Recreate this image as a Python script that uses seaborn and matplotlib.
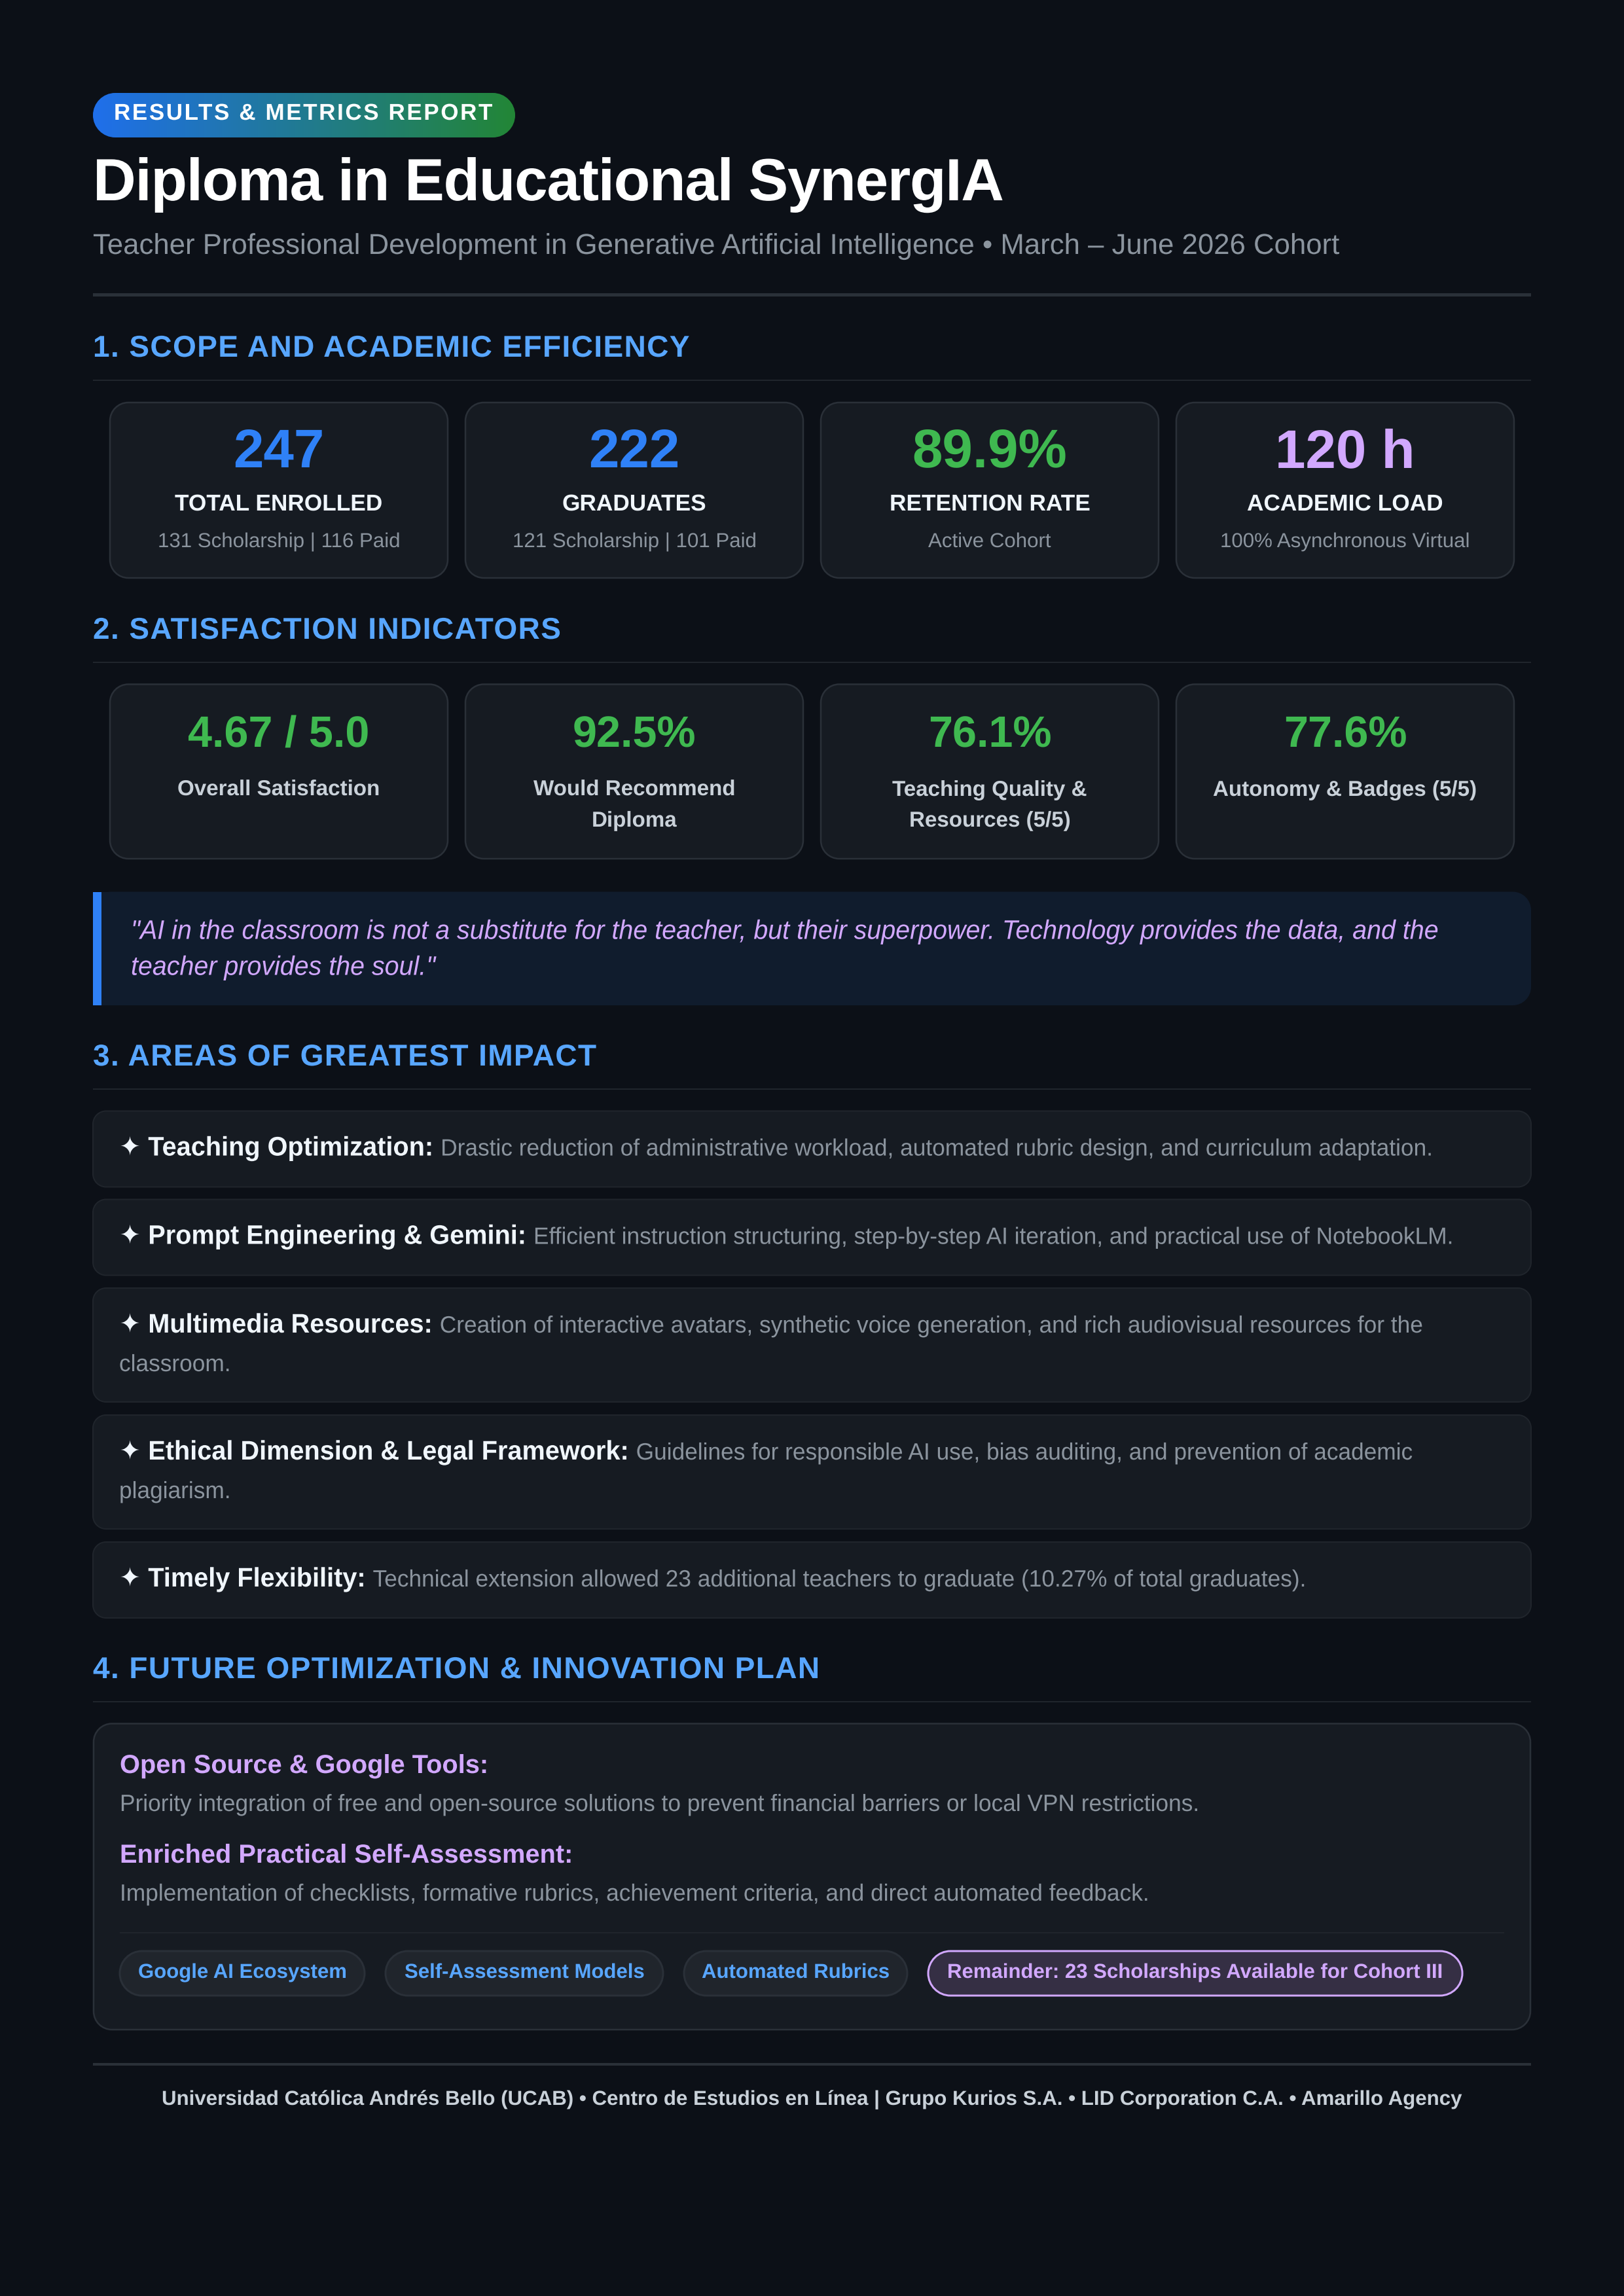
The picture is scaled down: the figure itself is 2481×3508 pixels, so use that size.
from bisect import bisect_right

import numpy as np
import matplotlib
matplotlib.use("Agg")
import matplotlib.pyplot as plt
import seaborn as sns
from matplotlib.patches import PathPatch, Rectangle
from matplotlib.path import Path
from matplotlib.patheffects import AbstractPathEffect
from matplotlib.transforms import IdentityTransform

# --- content ---
badge_text = "RESULTS & METRICS REPORT"
title_text = "Diploma in Educational SynergIA"
subtitle_text = "Teacher Professional Development in Generative Artificial Intelligence • March – June 2026 Cohort"

section_titles = ["1. SCOPE AND ACADEMIC EFFICIENCY", "2. SATISFACTION INDICATORS",
                  "3. AREAS OF GREATEST IMPACT", "4. FUTURE OPTIMIZATION & INNOVATION PLAN"]

scope_values = ["247", "222", "89.9%", "120 h"]
scope_labels = ["TOTAL ENROLLED", "GRADUATES", "RETENTION RATE", "ACADEMIC LOAD"]
scope_notes = ["131 Scholarship | 116 Paid", "121 Scholarship | 101 Paid", "Active Cohort", "100% Asynchronous Virtual"]

satisfaction_values = ["4.67 / 5.0", "92.5%", "76.1%", "77.6%"]
satisfaction_labels = [["Overall Satisfaction"], ["Would Recommend", "Diploma"],
                       ["Teaching Quality &", "Resources (5/5)"], ["Autonomy & Badges (5/5)"]]

quote_lines = ['"AI in the classroom is not a substitute for the teacher, but their superpower. Technology provides the data, and the',
               'teacher provides the soul."']

impact_heads = ["✦ Teaching Optimization:", "✦ Prompt Engineering & Gemini:", "✦ Multimedia Resources:",
                "✦ Ethical Dimension & Legal Framework:", "✦ Timely Flexibility:"]
impact_lines = [["Drastic reduction of administrative workload, automated rubric design, and curriculum adaptation."],
                ["Efficient instruction structuring, step-by-step AI iteration, and practical use of NotebookLM."],
                ["Creation of interactive avatars, synthetic voice generation, and rich audiovisual resources for the", "classroom."],
                ["Guidelines for responsible AI use, bias auditing, and prevention of academic", "plagiarism."],
                ["Technical extension allowed 23 additional teachers to graduate (10.27% of total graduates)."]]

plan_heads = ["Open Source & Google Tools:", "Enriched Practical Self-Assessment:"]
plan_notes = ["Priority integration of free and open-source solutions to prevent financial barriers or local VPN restrictions.",
              "Implementation of checklists, formative rubrics, achievement criteria, and direct automated feedback."]
pill_labels = ["Google AI Ecosystem", "Self-Assessment Models", "Automated Rubrics",
               "Remainder: 23 Scholarships Available for Cohort III"]
footer_text = "Universidad Católica Andrés Bello (UCAB) • Centro de Estudios en Línea | Grupo Kurios S.A. • LID Corporation C.A. • Amarillo Agency"

# colours
BG = "#0c1017"
CARD = "#161b22"
LINE = "#2a3038"
SOFT_LINE = "#20252c"
QUOTE = "#101c2d"
BLUE = "#2f81f7"
SKY = "#58a6ff"
GREEN = "#3fb950"
PURPLE = "#d2a8ff"
WHITE = "#f0f6fc"
LIGHT = "#c9d1d9"
GREY = "#8b949e"
scope_colors = [BLUE, BLUE, GREEN, PURPLE]

sns.set_theme(style="dark", rc={"figure.facecolor": BG, "axes.facecolor": BG, "text.hinting": "none"})
plt.rcParams["font.family"] = ["Liberation Sans", "DejaVu Sans"]

DPI = 100
fig = plt.figure(figsize=(24.81, 35.08), dpi=DPI)
ax = fig.add_axes([0, 0, 1, 1])
ax.set_xlim(0, 2481)
ax.set_ylim(3508, 0)
ax.set_axis_off()
sns.despine(ax=ax, left=True, bottom=True)
renderer = fig.canvas.get_renderer()


class Tracking(AbstractPathEffect):
    # css letter-spacing: moves each glyph's contours right by its index * spacing
    def __init__(self, x0, edges, spacing):
        super().__init__()
        self.x0 = x0
        self.edges = edges
        self.spacing = spacing

    def draw_path(self, renderer, gc, tpath, affine, rgbFace=None):
        verts = affine.transform(tpath.vertices)
        codes = tpath.codes
        starts = list(np.flatnonzero(codes == Path.MOVETO)) + [len(codes)]
        for a, b in zip(starts[:-1], starts[1:]):
            real = codes[a:b] != Path.CLOSEPOLY
            mid = (verts[a:b][real, 0].min() + verts[a:b][real, 0].max()) / 2
            verts[a:b, 0] += self.spacing * bisect_right(self.edges, mid - self.x0)
        renderer.draw_path(gc, Path(verts, codes), IdentityTransform(), rgbFace)


class StretchX(AbstractPathEffect):
    # reference font runs a little narrower than Liberation
    def __init__(self, x0, k):
        super().__init__()
        self.x0 = x0
        self.k = k

    def draw_path(self, renderer, gc, tpath, affine, rgbFace=None):
        verts = affine.transform(tpath.vertices)
        verts[:, 0] = self.x0 + (verts[:, 0] - self.x0) * self.k
        renderer.draw_path(gc, Path(verts, tpath.codes), IdentityTransform(), rgbFace)


def put(x, y, s, px, color, weight="normal", ha="left", style="normal", spacing=0, k=1.0):
    t = ax.text(x, y, s, fontsize=px * 72 / DPI, color=color, fontweight=weight, ha=ha,
                va="baseline", fontstyle=style, zorder=5)
    w = t.get_window_extent(renderer).width
    if spacing:
        fp = t.get_fontproperties()
        edges = [renderer.get_text_width_height_descent(s[:i + 1], fp, False)[0] for i in range(len(s))]
        t.set_path_effects([Tracking(x, edges, spacing)])
        w += spacing * (len(s) - 1)
    elif k != 1.0:
        t.set_path_effects([StretchX(x, k)])
        w *= k
    return x + w


def rounded(x0, y0, x1, y1, r):
    c = r * 0.4477  # distance of the bezier handle from the corner
    verts = [(x0 + r, y0), (x1 - r, y0), (x1 - c, y0), (x1, y0 + c), (x1, y0 + r),
             (x1, y1 - r), (x1, y1 - c), (x1 - c, y1), (x1 - r, y1),
             (x0 + r, y1), (x0 + c, y1), (x0, y1 - c), (x0, y1 - r),
             (x0, y0 + r), (x0, y0 + c), (x0 + c, y0), (x0 + r, y0), (x0 + r, y0)]
    codes = [Path.MOVETO, Path.LINETO, Path.CURVE4, Path.CURVE4, Path.CURVE4,
             Path.LINETO, Path.CURVE4, Path.CURVE4, Path.CURVE4,
             Path.LINETO, Path.CURVE4, Path.CURVE4, Path.CURVE4,
             Path.LINETO, Path.CURVE4, Path.CURVE4, Path.CURVE4, Path.CLOSEPOLY]
    return Path(verts, codes)


def box(x0, y0, x1, y1, radius, face, edge=None, lw=2.5, z=2):
    p = PathPatch(rounded(x0, y0, x1, y1, radius), facecolor=face, edgecolor=edge if edge else "none",
                  linewidth=lw * 72 / DPI, zorder=z)
    ax.add_patch(p)
    return p


def hline(y, x0, x1, color, thick):
    ax.add_patch(Rectangle((x0, y - thick / 2), x1 - x0, thick, facecolor=color, edgecolor="none", zorder=2))


LEFT, RIGHT = 142, 2339
CARD_X = [168, 711, 1254, 1797]
CARD_W = 516

# header
badge = box(142, 142, 787, 210, 34, "none")
grad = np.linspace(0, 1, 256).reshape(1, -1)
cmap = sns.blend_palette(["#1f6feb", "#238636"], as_cmap=True)
im = ax.imshow(grad, extent=(142, 787, 210, 142), cmap=cmap, aspect="auto", zorder=3)
im.set_clip_path(badge)
ax.set_xlim(0, 2481)
ax.set_ylim(3508, 0)
put(174, 183, badge_text, 35, "#ffffff", "bold", spacing=2.6)
put(142, 306, title_text, 91, "#ffffff", "bold", spacing=-1.3)
put(142, 388, subtitle_text, 44, GREY, k=0.994)
hline(450, LEFT, RIGHT, LINE, 5)

# section titles and their rules
for sec_title, rule_y in zip(section_titles, [581, 1012, 1664, 2600]):
    put(LEFT, rule_y - 36, sec_title, 46, SKY, "bold", spacing=1.4)
    hline(rule_y, LEFT, RIGHT, SOFT_LINE, 2.5)

# scope cards
for x, val, lab, note, col in zip(CARD_X, scope_values, scope_labels, scope_notes, scope_colors):
    box(x, 615, x + CARD_W, 883, 28, CARD, LINE)
    cx = x + CARD_W / 2
    put(cx, 714, val, 83.5, col, "bold", ha="center")
    put(cx, 780, lab, 35.3, WHITE, "bold", ha="center")
    put(cx, 836, note, 31.3, GREY, ha="center")

# satisfaction cards
for x, val, lab in zip(CARD_X, satisfaction_values, satisfaction_labels):
    box(x, 1045.5, x + CARD_W, 1312, 28, CARD, LINE)
    cx = x + CARD_W / 2
    put(cx, 1141, val, 66.5, GREEN, "bold", ha="center")
    for i, line in enumerate(lab):
        put(cx, 1216 + i * 47, line, 33.2, LIGHT, "bold", ha="center")

# quote
box(LEFT, 1362.5, RIGHT, 1536, 28, QUOTE)
ax.add_patch(Rectangle((LEFT, 1362.5), 40, 173.5, facecolor=QUOTE, edgecolor="none", zorder=2))
ax.add_patch(Rectangle((LEFT, 1362.5), 12.5, 173.5, facecolor=BLUE, edgecolor="none", zorder=3))
for i, line in enumerate(quote_lines):
    put(200, 1434.5 + i * 55, line, 41, PURPLE, style="italic", k=0.961)

# impact items
item_tops = [1697.5, 1832.5, 1968, 2162, 2356]
for top, head, lines in zip(item_tops, impact_heads, impact_lines):
    bottom = top + (116 if len(lines) == 1 else 174)
    box(LEFT, top, RIGHT, bottom, 20, CARD, SOFT_LINE, lw=2)
    end = put(182, top + 68, head, 41, WHITE, "bold", k=0.968)
    put(end + 11, top + 68, lines[0], 36, GREY, k=0.98)
    if len(lines) > 1:
        put(182, top + 127, lines[1], 36, GREY, k=0.98)

# plan panel
box(143, 2633.5, 2338, 3101, 28, CARD, LINE)
for head, note, y in zip(plan_heads, plan_notes, [2709, 2846]):
    put(183, y, head, 40, PURPLE, "bold", k=0.995)
    put(183, y + 58, note, 36, GREY, k=0.98)
hline(2953, 183, 2298, SOFT_LINE, 2.5)

pill_x = [(183, 557), (589, 1013), (1045, 1386), (1418, 2234)]
for (x0, x1), lab in zip(pill_x, pill_labels):
    hot = lab.startswith("Remainder")
    box(x0, 2981, x1, 3049, 34, "#352f44" if hot else SOFT_LINE, PURPLE if hot else LINE, lw=3)
    put((x0 + x1) / 2, 3022, lab, 31.2, PURPLE if hot else SKY, "bold", ha="center")

# footer
hline(3154, LEFT, RIGHT, LINE, 4)
put(1240, 3216, footer_text, 31.3, LIGHT, "bold", ha="center")

fig.savefig("out.png", dpi=DPI, facecolor=BG)
